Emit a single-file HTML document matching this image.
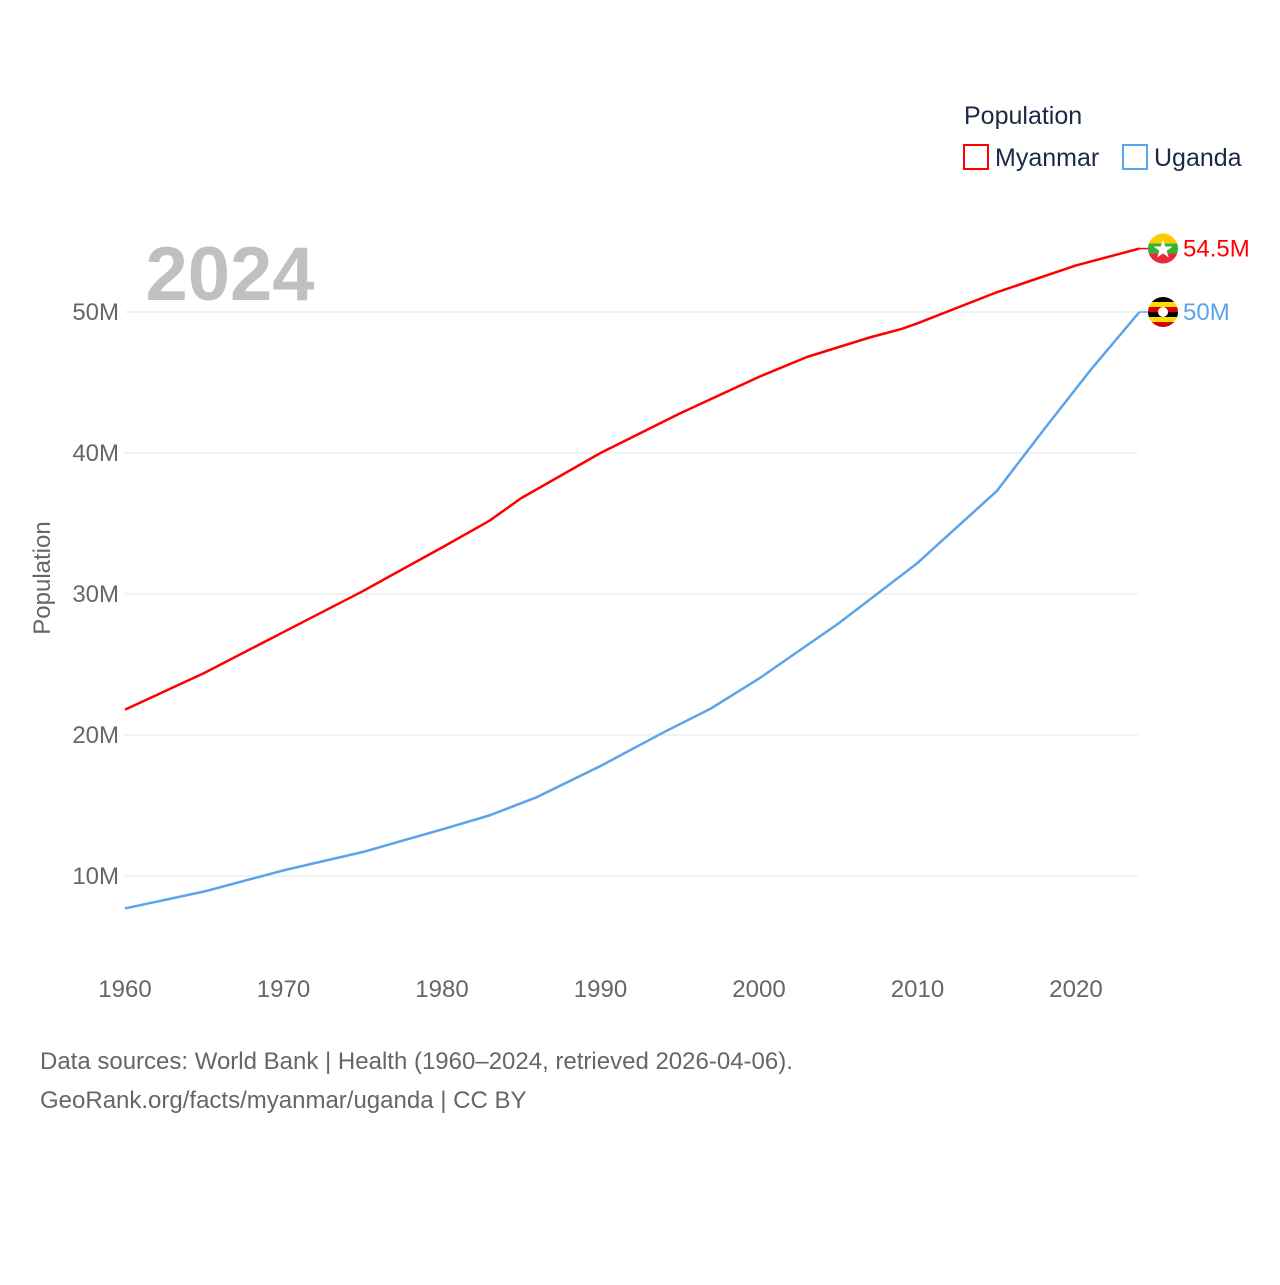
<!DOCTYPE html>
<html><head><meta charset="utf-8"><style>
body{margin:0;background:#fff;font-family:"Liberation Sans",sans-serif;}
</style></head><body>
<svg width="1280" height="1280" xmlns="http://www.w3.org/2000/svg" style="font-family:'Liberation Sans',sans-serif">
<g id="grid"></g>
<g id="yt"></g>
<g id="xt"></g>
<text x="230" y="300" font-size="76" font-weight="bold" fill="#c0c0c0" text-anchor="middle">2024</text>
<text transform="translate(50,578) rotate(-90)" font-size="24" fill="#666" text-anchor="middle">Population</text>
<g id="series"></g>
<g>
<text x="964" y="124" font-size="25" fill="#1a2a44">Population</text>
<g><rect x="964" y="145" width="24" height="24" fill="none" stroke="#ff0000" stroke-width="2"/><text x="995" y="166" font-size="25" fill="#1a2a44">Myanmar</text></g>
<g><rect x="1123" y="145" width="24" height="24" fill="none" stroke="#5ba4ec" stroke-width="2"/><text x="1154" y="166" font-size="25" fill="#1a2a44">Uganda</text></g>
</g>
<text x="40" y="1069" font-size="24" fill="#666">Data sources: World Bank | Health (1960–2024, retrieved 2026-04-06).</text>
<text x="40" y="1108" font-size="24" fill="#666">GeoRank.org/facts/myanmar/uganda | CC BY</text>
</svg>
<script>
const mmYears=[1960,1965,1970,1975,1980,1983,1985,1990,1995,2000,2003,2007,2009,2010,2015,2020,2024];
const mmValues=[21.8,24.4,27.3,30.2,33.3,35.2,36.8,40.0,42.8,45.4,46.8,48.2,48.8,49.2,51.4,53.3,54.5];
const ugYears=[1960,1965,1970,1975,1980,1983,1986,1990,1994,1997,2000,2005,2010,2015,2018,2021,2024];
const ugValues=[7.7,8.9,10.4,11.7,13.3,14.3,15.6,17.8,20.2,21.9,24.0,27.9,32.2,37.3,41.7,46.0,50.0];
const yTicks=[10,20,30,40,50];
const xTicks=[1960,1970,1980,1990,2000,2010,2020];
const NS="http://www.w3.org/2000/svg";
const X=y=>125+(y-1960)*951/60;
const Y=v=>1017-v*14.1;
function mk(t,a,p){const e=document.createElementNS(NS,t);for(const k in a)e.setAttribute(k,a[k]);p.appendChild(e);return e;}
const grid=document.getElementById('grid'),yt=document.getElementById('yt'),xt=document.getElementById('xt');
yTicks.forEach(v=>{
 const l=mk('line',{x1:125,x2:1138,y1:Y(v),y2:Y(v),stroke:'#e6e6e6','stroke-width':1},grid);
 
 
 const t=mk('text',{x:119,y:Y(v)+8,'font-size':24,fill:'#666','text-anchor':'end'},yt);t.textContent=v+'M';
 
 
});
xTicks.forEach(v=>{
 const t=mk('text',{x:X(v),y:997,'font-size':24,fill:'#666','text-anchor':'middle'},xt);t.textContent=v;
 
 
});
const s=document.getElementById('series');
function line(ys,vs,c,name,lbl){
 const p=mk('polyline',{points:ys.map((y,i)=>X(y)+','+Y(vs[i])).join(' '),fill:'none',stroke:c,'stroke-width':2.5,'stroke-linejoin':'round'},s);
 
 
 const ly=Y(vs[vs.length-1]),lx=X(ys[ys.length-1]);
 mk('line',{x1:lx,x2:lx+10,y1:ly,y2:ly,stroke:c,'stroke-width':1.5},s);
 const t=mk('text',{x:1183,y:ly+8,'font-size':24,fill:c},s);t.textContent=lbl;
 
 
 return ly;
}
const my=line(mmYears,mmValues,'#ff0000','myanmar','54.5M');
const uy=line(ugYears,ugValues,'#5ba4ec','uganda','50M');
// flags
let g=mk('g',{},s);


mk('clipPath',{id:'c1'},g).appendChild(Object.assign(document.createElementNS(NS,'circle'),{}));
g.querySelector('clipPath circle').setAttribute('cx',1163);g.querySelector('clipPath circle').setAttribute('cy',my);g.querySelector('clipPath circle').setAttribute('r',15);
let gg=mk('g',{'clip-path':'url(#c1)'},g);
mk('rect',{x:1148,y:my-15,width:30,height:10,fill:'#fecb00'},gg);
mk('rect',{x:1148,y:my-5,width:30,height:10,fill:'#34b233'},gg);
mk('rect',{x:1148,y:my+5,width:30,height:10,fill:'#ea2839'},gg);
mk('polygon',{points:[0,1,2,3,4].map(i=>{const a=-Math.PI/2+i*4*Math.PI/5;return (1163+10*Math.cos(a))+','+(my+1+10*Math.sin(a));}).join(' '),fill:'#fff'},gg);
g=mk('g',{},s);


const cp=mk('clipPath',{id:'c2'},g);mk('circle',{cx:1163,cy:uy,r:15},cp);
gg=mk('g',{'clip-path':'url(#c2)'},g);
['#000','#fcdc04','#d90000','#000','#fcdc04','#d90000'].forEach((c,i)=>mk('rect',{x:1148,y:uy-15+i*5,width:30,height:5,fill:c},gg));
mk('circle',{cx:1163,cy:uy,r:5,fill:'#fff'},gg);
</script>
</body></html>
